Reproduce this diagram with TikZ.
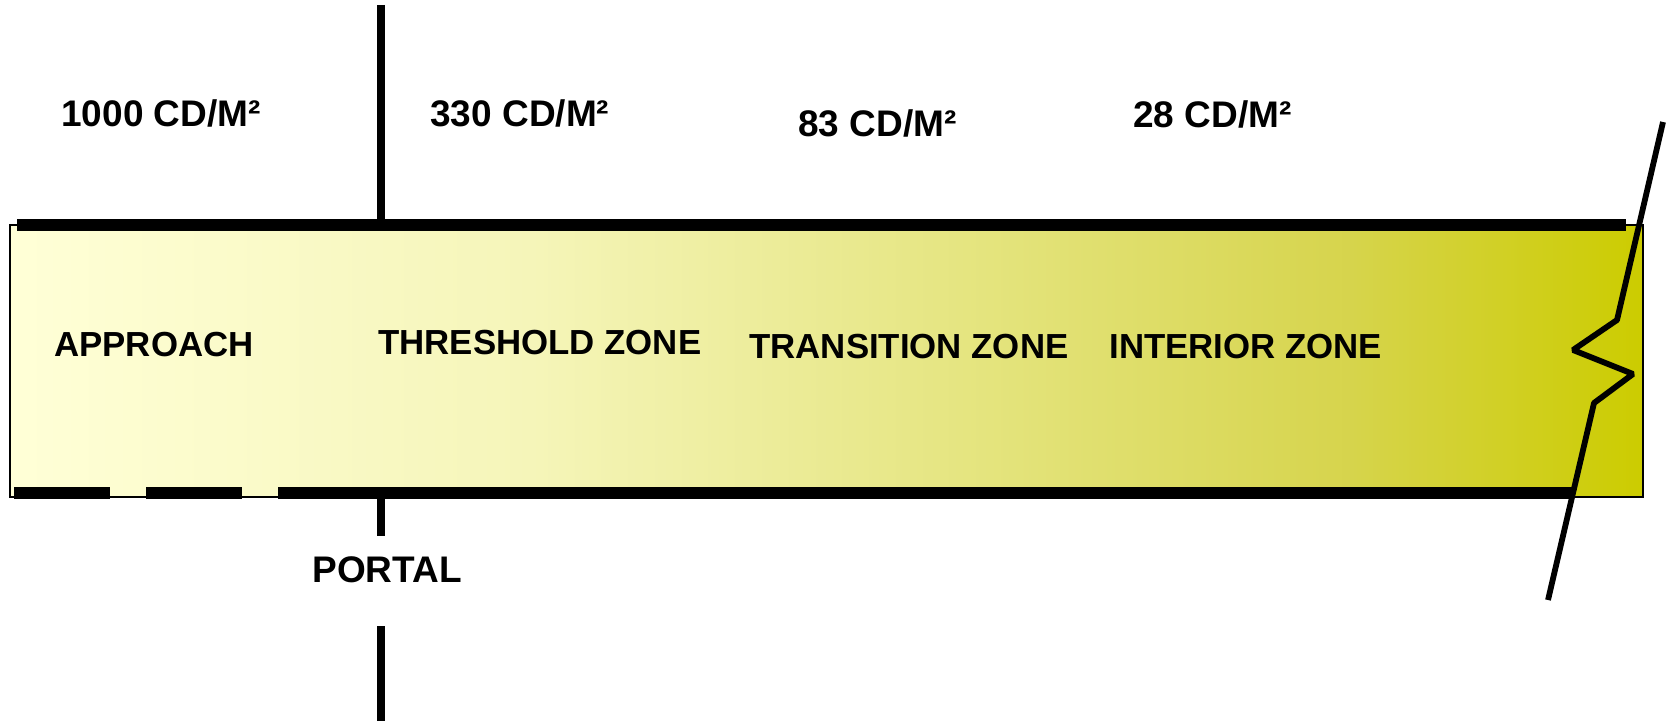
\documentclass[tikz,border=0pt]{standalone}
\usepackage{fontspec}
\setmainfont{Liberation Sans}
\pgfdeclarehorizontalshading{zonegrad}{100bp}{%
  rgb(0bp)=(1,1,0.843);
  rgb(25bp)=(1,1,0.843);
  rgb(41bp)=(0.961,0.961,0.725);
  rgb(55bp)=(0.894,0.894,0.49);
  rgb(66bp)=(0.84,0.832,0.30);
  rgb(75bp)=(0.8,0.8,0);
  rgb(100bp)=(0.8,0.8,0)}
\tikzset{
  wall/.style={line width=6pt, line cap=butt},
  portalline/.style={line width=4pt, line cap=butt},
  breakline/.style={line width=2.9pt, line join=bevel, line cap=butt},
  lum/.style={inner sep=0pt, anchor=base west, font=\fontsize{18.5}{20}\selectfont\bfseries},
  zone/.style={inner sep=0pt, anchor=base west, font=\fontsize{17.4}{20}\selectfont\bfseries},
}
\begin{document}
\begin{tikzpicture}[x=0.5pt,y=-0.5pt]
\useasboundingbox (0,0) rectangle (1668,721);

% tunnel body with brightness gradient
\path[shading=zonegrad, draw=black, line width=0.9pt] (10,225) rectangle (1643,497);

% tunnel walls: solid inside, dashed along the approach
\draw[wall] (17,225.5) -- (1626,225.5);
\draw[wall] (14,492.5) -- (110,492.5);
\draw[wall] (146,492.5) -- (242,492.5);
\draw[wall] (278,492.5) -- (374,492.5);
\draw[wall] (370,493) -- (1573,493);

% portal marker
\coordinate (ptop) at (381,5);
\coordinate (pwall) at (381,225);
\coordinate (pb1) at (381,499);
\coordinate (pb2) at (381,536);
\coordinate (pb3) at (381,626);
\coordinate (pend) at (381,721);
\draw[portalline] (ptop) -- (pwall);
\draw[portalline] (pb1) -- (pb2);
\draw[portalline] (pb3) -- (pend);

% break symbol at the far end
\coordinate (k0) at (1663,122);
\coordinate (k1) at (1617,320);
\coordinate (k2) at (1573,350);
\coordinate (k3) at (1633,374);
\coordinate (k4) at (1594,403);
\coordinate (k5) at (1548,600);
\draw[breakline] (k0) -- (k1) -- (k2) -- (k3) -- (k4) -- (k5);

% luminance levels
\node[lum] (l1) at (61,127) {1000 CD/M²};
\node[lum] (l2) at (430,127) {330 CD/M²};
\node[lum] (l3) at (798,137) {83 CD/M²};
\node[lum] (l4) at (1133,128) {28 CD/M²};

% zones
\node[zone] (z1) at (54,357) {APPROACH};
\node[zone] (z2) at (378,354) {THRESHOLD ZONE};
\node[zone] (z3) at (749,358) {TRANSITION ZONE};
\node[zone] (z4) at (1109,358) {INTERIOR ZONE};

\node[lum] (portal) at (312,582) {PORTAL};
\end{tikzpicture}
\end{document}
